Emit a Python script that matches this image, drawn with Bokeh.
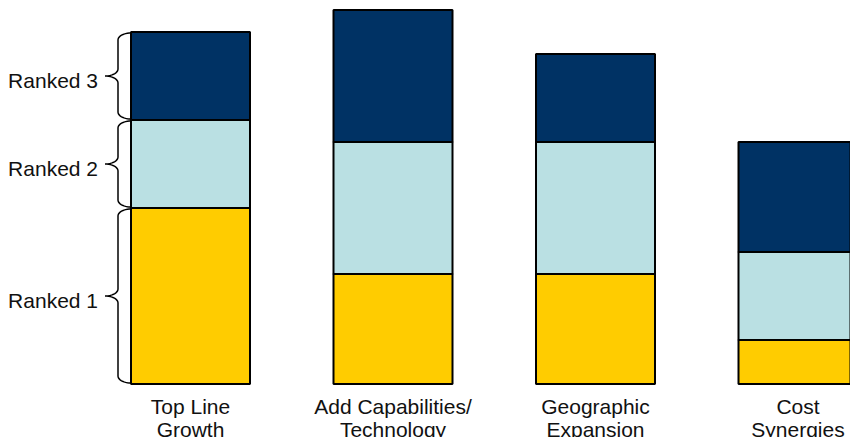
import numpy as np
from bokeh.plotting import figure
from bokeh.models import Range1d
from bokeh.core.properties import value
from bokeh.embed import file_html
from bokeh.resources import INLINE

# ---- data ----
categories = ["Top Line\nGrowth", "Add Capabilities/\nTechnology", "Geographic\nExpansion", "Cost\nSynergies"]
ranked_1 = [8, 5, 5, 2]
ranked_2 = [4, 6, 6, 4]
ranked_3 = [4, 6, 4, 5]
rank_labels = ["Ranked 1", "Ranked 2", "Ranked 3"]
colors = ["#FFCC00", "#BAE0E3", "#003264"]

W, H = 850, 437
PX_X = 202.5   # px per category
PX_Y = 22.0    # px per unit
x0_px = 190.0  # px position of first bar centre
base_px = 383.5

x = np.arange(len(categories), dtype=float)
bar_w = 119 / PX_X

p = figure(width=W, height=H, output_backend="svg", toolbar_location=None,
           min_border=0, min_border_left=0, min_border_right=0,
           min_border_top=0, min_border_bottom=0)
p.x_range = Range1d(-x0_px / PX_X, (W - x0_px) / PX_X)
p.y_range = Range1d(-(H - base_px) / PX_Y, base_px / PX_Y)
p.xaxis.visible = False
p.yaxis.visible = False
p.grid.visible = False
p.outline_line_color = None
p.background_fill_color = "white"
p.border_fill_color = "white"

series = [ranked_1, ranked_2, ranked_3]
bottom = np.zeros(len(categories))
bounds_first = []
for vals, col in zip(series, colors):
    vals = np.array(vals, dtype=float)
    top = bottom + vals
    p.vbar(x=x, width=bar_w, bottom=bottom, top=top, fill_color=col,
           line_color="black", line_width=2)
    bounds_first.append((bottom[0], top[0]))
    bottom = top

# ---- braces beside first bar ----
L = x[0] - bar_w / 2
dx = 13 / PX_X
dy = 7 / PX_Y
gap = 1 / PX_Y


def arc(cx, cy, a0, a1, n=12):
    t = np.radians(np.linspace(a0, a1, n))
    return list(cx + dx * np.cos(t)), list(cy + dy * np.sin(t))


for (y0, y1), lab in zip(bounds_first, rank_labels):
    y0 = y0 + gap
    y1 = y1 - gap
    m = (y0 + y1) / 2
    xs, ys = [], []
    for cx, cy, a0, a1 in [(L, y1 - dy, 90, 180),
                           (L - 2 * dx, m + dy, 0, -90),
                           (L - 2 * dx, m - dy, 90, 0),
                           (L, y0 + dy, 180, 270)]:
        ax, ay = arc(cx, cy, a0, a1)
        xs += ax
        ys += ay
    p.line(xs, ys, line_color="black", line_width=1.5)
    p.text(x=[L], y=[m], text=[lab], text_align="right", text_baseline="middle",
           x_offset=-33, y_offset=4, text_font=value("Liberation Sans"),
           text_font_size="21px", text_color="#111111")

# ---- category labels ----
line1 = [c.split("\n")[0] for c in categories]
line2 = [c.split("\n")[1] for c in categories]
zeros = [0] * len(categories)
p.text(x=x, y=zeros, text=line1, text_align="center", text_baseline="alphabetic",
       y_offset=22, text_font=value("Liberation Sans"), text_font_size="21px",
       text_color="#111111")
p.text(x=x, y=zeros, text=line2, text_align="center", text_baseline="alphabetic",
       y_offset=45, text_font=value("Liberation Sans"), text_font_size="21px",
       text_color="#111111")

open("out.html", "w").write(file_html(p, INLINE))
